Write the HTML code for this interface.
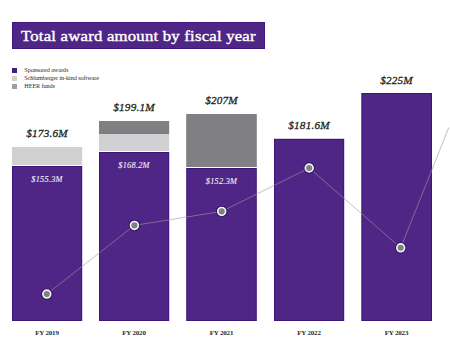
<!DOCTYPE html>
<html><head><meta charset="utf-8">
<style>
html,body{margin:0;padding:0;background:#fff;}
body{width:450px;height:355px;position:relative;overflow:hidden;font-family:"Liberation Serif",serif;}
#title{position:absolute;left:12px;top:21.8px;width:253px;height:27.2px;background:#4f2686;box-shadow:inset 0 0 0 1px #3e1680;}
#title span{position:absolute;left:9px;top:3.8px;font-size:15.2px;line-height:19px;color:#fff;letter-spacing:0.2px;-webkit-text-stroke:0.4px #fff;white-space:nowrap;transform:scaleX(1.1);transform-origin:0 0;}
.leg{position:absolute;left:12px;width:5px;height:5px;}
.legt{position:absolute;left:24.3px;font-size:6.2px;letter-spacing:-0.08px;color:#2a2a2a;line-height:1;white-space:nowrap;}
.top{position:absolute;font-weight:normal;font-style:italic;font-size:11.2px;letter-spacing:0.2px;color:#231f20;-webkit-text-stroke:0.3px #231f20;line-height:1;text-align:center;width:100px;white-space:nowrap;}
.in{position:absolute;font-style:italic;font-weight:normal;font-size:8.3px;letter-spacing:0.25px;color:#f2eff6;-webkit-text-stroke:0.1px #f2eff6;line-height:1;text-align:center;width:100px;white-space:nowrap;}
.fy{position:absolute;font-weight:bold;font-size:7px;letter-spacing:-0.2px;color:#2a2a2a;line-height:1;text-align:center;width:100px;top:330.2px;white-space:nowrap;}
svg{position:absolute;left:0;top:0;}
</style></head><body>
<div id="title"><span>Total award amount by fiscal year</span></div>
<div class="leg" style="top:68px;background:#40207a"></div>
<div class="leg" style="top:76px;background:#d1d1d3"></div>
<div class="leg" style="top:84px;background:#9e9ea0"></div>
<div class="legt" style="top:67.2px">Sponsored awards</div>
<div class="legt" style="top:75.2px">Schlumberger in-kind software</div>
<div class="legt" style="top:83.2px">HEER funds</div>
<svg width="450" height="355" viewBox="0 0 450 355">
  <rect x="12" y="147" width="70.2" height="18" fill="#d1d1d3"/>
  <rect x="12" y="166" width="70.2" height="155" fill="#3a127a"/>
  <rect x="12.9" y="166.9" width="68.4" height="153.4" fill="#4f2686"/>
  <rect x="99" y="121" width="70.2" height="13" fill="#808083"/>
  <rect x="99" y="134" width="70.2" height="17" fill="#d1d1d3"/>
  <rect x="99" y="152" width="70.2" height="169" fill="#3a127a"/>
  <rect x="99.9" y="152.9" width="68.4" height="167.4" fill="#4f2686"/>
  <rect x="186.2" y="114" width="70.6" height="53" fill="#808083"/>
  <rect x="186.2" y="168" width="70.6" height="153" fill="#3a127a"/>
  <rect x="187.1" y="168.9" width="68.8" height="151.4" fill="#4f2686"/>
  <rect x="274" y="138.8" width="70.2" height="182.2" fill="#3a127a"/>
  <rect x="274.9" y="139.70000000000002" width="68.4" height="180.6" fill="#4f2686"/>
  <rect x="361.3" y="93" width="70.7" height="228" fill="#3a127a"/>
  <rect x="362.2" y="93.9" width="68.9" height="226.4" fill="#4f2686"/>
  <polyline points="46.8,294.1 134.4,225.4 221.7,211.4 309.2,168.0 400.7,247.8 448.9,127.3" fill="none" stroke="#999999" stroke-opacity="0.72" stroke-width="0.85"/>
  <g fill="#2a0e5c" opacity="0.85"><circle cx="46.8" cy="294.1" r="5.7"/><circle cx="134.4" cy="225.4" r="5.7"/><circle cx="221.7" cy="211.4" r="5.7"/><circle cx="309.2" cy="168.0" r="5.7"/><circle cx="400.7" cy="247.8" r="5.7"/></g>
  <g fill="#7f8080" stroke="#f4f2f6" stroke-width="1.7"><circle cx="46.8" cy="294.1" r="3.9"/><circle cx="134.4" cy="225.4" r="3.9"/><circle cx="221.7" cy="211.4" r="3.9"/><circle cx="309.2" cy="168.0" r="3.9"/><circle cx="400.7" cy="247.8" r="3.9"/></g>
</svg>
<div class="top" style="left:-3px;top:128.4px">$173.6M</div>
<div class="top" style="left:84px;top:102.4px">$199.1M</div>
<div class="top" style="left:171.5px;top:95.4px">$207M</div>
<div class="top" style="left:259px;top:120.4px">$181.6M</div>
<div class="top" style="left:346.5px;top:75.4px">$225M</div>
<div class="in" style="left:-3px;top:175.7px">$155.3M</div>
<div class="in" style="left:84px;top:161.7px">$168.2M</div>
<div class="in" style="left:171.5px;top:177.7px">$152.3M</div>
<div class="fy" style="left:-3px">FY 2019</div>
<div class="fy" style="left:84px">FY 2020</div>
<div class="fy" style="left:171.5px">FY 2021</div>
<div class="fy" style="left:259px">FY 2022</div>
<div class="fy" style="left:346.5px">FY 2023</div>
</body></html>
